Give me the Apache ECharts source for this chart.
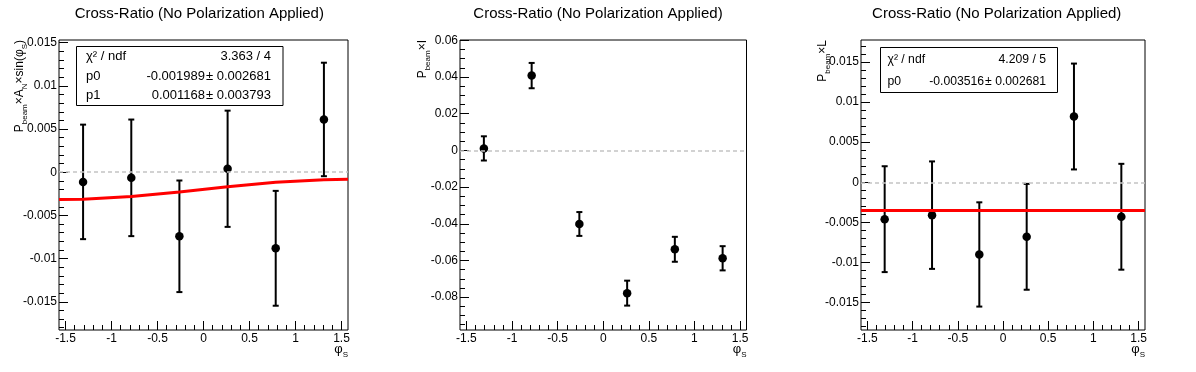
<!DOCTYPE html>
<html><head><meta charset="utf-8">
<script src="https://cdn.jsdelivr.net/npm/echarts@6/dist/echarts.min.js"></script>
<style>html,body{margin:0;padding:0;background:#fff}#c{width:1196px;height:372px}</style>
</head><body><div id="c"></div>
<script>
// ---------------- data ----------------
const phiBins = [-1.309, -0.785, -0.262, 0.262, 0.785, 1.309];

const asymSin    = [-0.00112, -0.00065, -0.00742, 0.00040, -0.00881, 0.00611];
const asymSinErr = [0.00663, 0.00675, 0.00646, 0.00673, 0.00665, 0.00657];

const asymI    = [0.0011, 0.0408, -0.0401, -0.0778, -0.0539, -0.0588];
const asymIErr = [0.0066, 0.0069, 0.0065, 0.0068, 0.0068, 0.0066];

const asymL    = [-0.0046, -0.0041, -0.0090, -0.0068, 0.0082, -0.0043];
const asymLErr = [0.0066, 0.0067, 0.0065, 0.0066, 0.0066, 0.0066];

// fit curves
const fitSinX = [-1.5708, -1.309, -0.785, -0.262, 0.262, 0.785, 1.309, 1.5708];
const fitSinY = [-0.00316, -0.00312, -0.00281, -0.00229, -0.00169, -0.00116, -0.00086, -0.00082];
const fitConstX = [-1.5708, 1.5708];
const fitConstY = [-0.003516, -0.003516];

// ticks
const xMajorTicks = [-1.5, -1, -0.5, 0, 0.5, 1, 1.5];
const ySinTicks = [-0.015, -0.01, -0.005, 0, 0.005, 0.01, 0.015];
const yITicks = [-0.08, -0.06, -0.04, -0.02, 0, 0.02, 0.04, 0.06];
const yLTicks = [-0.015, -0.01, -0.005, 0, 0.005, 0.01, 0.015];

// texts
const titleText = 'Cross-Ratio (No Polarization Applied)';
const stat1 = [['χ² / ndf', '3.363 / 4'], ['p0', '-0.001989\u200A± 0.002681'], ['p1', '0.001168\u200A± 0.003793']];
const stat3 = [['χ² / ndf', '4.209 / 5'], ['p0', '-0.003516\u200A± 0.002681']];
const yTitle1 = '{m|P}{s|beam}{m|×A}{s|N}{m|×sin(φ}{s|S}{m|)}';
const yTitle2 = '{m|P}{s|beam}{m|×I}';
const yTitle3 = '{m|P}{s|beam}{m|×L}';
const xTitle = '{m|φ}{s|S}';

// ---------------- layout ----------------
const FONT = '"Liberation Sans", Arial, Helvetica, sans-serif';
const XMIN = -1.5708, XMAX = 1.5708;
const panels = [
  {left: 59,  width: 289,   padCenter: 199.3, ymin: -0.01827, ymax: 0.01531, yTicks: ySinTicks, yMinorStep: 0.001, yMinorFrom: -0.018, yMinorTo: 0.015,
   y: asymSin, e: asymSinErr, fitX: fitSinX, fitY: fitSinY, yTitle: yTitle1, yTitleX: 26.5},
  {left: 460, width: 286.5, padCenter: 598,   ymin: -0.0979, ymax: 0.0602, yTicks: yITicks, yMinorStep: 0.005, yMinorFrom: -0.095, yMinorTo: 0.06,
   y: asymI, e: asymIErr, fitX: null, fitY: null, yTitle: yTitle2, yTitleX: 430},
  {left: 861, width: 284,   padCenter: 996.7, ymin: -0.01842, ymax: 0.01774, yTicks: yLTicks, yMinorStep: 0.001, yMinorFrom: -0.018, yMinorTo: 0.017,
   y: asymL, e: asymLErr, fitX: fitConstX, fitY: fitConstY, yTitle: yTitle3, yTitleX: 830}
];
const TOP = 40, HEIGHT = 290;

function steps(a, b, s) {
  const out = [];
  const n = Math.round((b - a) / s);
  for (let i = 0; i <= n; i++) out.push(+(a + i * s).toFixed(6));
  return out;
}
const xMinorTicks = steps(-1.5, 1.5, 0.1);
const fmt = v => String(+Number(v).toFixed(6));

const grids = [], xAxes = [], yAxes = [], series = [], titles = [], graphics = [];

panels.forEach((p, i) => {
  const gMain = 2 * i, gOver = 2 * i + 1;
  grids.push({left: p.left, top: TOP, width: p.width, height: HEIGHT, show: true, borderColor: '#000', borderWidth: 1, backgroundColor: 'transparent', outerBoundsMode: 'none', containLabel: false});
  grids.push({left: p.left, top: TOP, width: p.width, height: HEIGHT, show: false, outerBoundsMode: 'none', containLabel: false});

  const common = {type: 'value', splitLine: {show: false}, axisLine: {show: false, onZero: false}};
  xAxes.push(Object.assign({}, common, {gridIndex: gMain, min: XMIN, max: XMAX, position: 'bottom',
    axisTick: {show: true, inside: true, length: 9, customValues: xMajorTicks, lineStyle: {color: '#000', width: 1}},
    axisLabel: {show: true, customValues: xMajorTicks, formatter: fmt, margin: 3, fontSize: 12, color: '#000', fontFamily: FONT}}));
  xAxes.push(Object.assign({}, common, {gridIndex: gOver, min: XMIN, max: XMAX, position: 'bottom',
    axisTick: {show: true, inside: true, length: 5, customValues: xMinorTicks, lineStyle: {color: '#000', width: 1}},
    axisLabel: {show: false}}));
  yAxes.push(Object.assign({}, common, {gridIndex: gMain, min: p.ymin, max: p.ymax, position: 'left',
    axisTick: {show: true, inside: true, length: 9, customValues: p.yTicks, lineStyle: {color: '#000', width: 1}},
    axisLabel: {show: true, customValues: p.yTicks, formatter: fmt, margin: 2, fontSize: 12, color: '#000', fontFamily: FONT}}));
  yAxes.push(Object.assign({}, common, {gridIndex: gOver, min: p.ymin, max: p.ymax, position: 'left',
    axisTick: {show: true, inside: true, length: 5, customValues: steps(p.yMinorFrom, p.yMinorTo, p.yMinorStep), lineStyle: {color: '#000', width: 1}},
    axisLabel: {show: false}}));

  const pts = phiBins.map((x, k) => [x, p.y[k], p.e[k]]);

  // zero reference line
  series.push({type: 'line', xAxisIndex: gMain, yAxisIndex: gMain, data: [], silent: true, z: 1,
    markLine: {silent: true, symbol: ['none', 'none'], label: {show: false}, animation: false,
      lineStyle: {color: '#c4c4c4', width: 1.5, type: [4, 3]}, data: [{yAxis: 0}]}});

  // error bars
  series.push({type: 'custom', xAxisIndex: gMain, yAxisIndex: gMain, data: pts, z: 3, silent: true,
    renderItem: (params, api) => {
      const x = api.value(0), y = api.value(1), e = api.value(2);
      const t = api.coord([x, y + e]), b = api.coord([x, y - e]);
      const cap = 3, st = {stroke: '#000', lineWidth: 2};
      return {type: 'group', children: [
        {type: 'line', shape: {x1: t[0], y1: t[1], x2: b[0], y2: b[1]}, style: st},
        {type: 'line', shape: {x1: t[0] - cap, y1: t[1], x2: t[0] + cap, y2: t[1]}, style: st},
        {type: 'line', shape: {x1: b[0] - cap, y1: b[1], x2: b[0] + cap, y2: b[1]}, style: st}
      ]};
    }});
  // markers
  series.push({type: 'scatter', xAxisIndex: gMain, yAxisIndex: gMain, data: pts.map(d => [d[0], d[1]]),
    symbol: 'circle', symbolSize: 8.5, itemStyle: {color: '#000', opacity: 1}, z: 4, silent: true});
  // fit
  if (p.fitX) {
    series.push({type: 'line', xAxisIndex: gMain, yAxisIndex: gMain, data: p.fitX.map((x, k) => [x, p.fitY[k]]),
      showSymbol: false, symbol: 'none', lineStyle: {color: '#ff0000', width: 3}, z: 5, silent: true, clip: true});
  }

  titles.push({text: titleText, left: p.padCenter, top: 6, textAlign: 'center', padding: 0,
    textStyle: {fontSize: 15, fontWeight: 'normal', color: '#000', fontFamily: FONT, lineHeight: 16}});

  const rich = {
    m: {fontSize: 12, fontFamily: FONT, color: '#000', lineHeight: 13, verticalAlign: 'top'},
    s: {fontSize: 8, fontFamily: FONT, color: '#000', lineHeight: 8, verticalAlign: 'top', padding: [7, 0, 0, 0]}
  };
  graphics.push({type: 'text', x: p.yTitleX, y: TOP, rotation: Math.PI / 2, silent: true,
    style: {text: p.yTitle, rich: rich, align: 'right', verticalAlign: 'bottom'}});
  graphics.push({type: 'text', x: p.left + p.width, y: 343, silent: true,
    style: {text: xTitle, rich: {
      m: {fontSize: 13, fontFamily: FONT, color: '#000', lineHeight: 14, verticalAlign: 'top'},
      s: {fontSize: 8, fontFamily: FONT, color: '#000', lineHeight: 8, verticalAlign: 'top', padding: [8, 0, 0, 0]}},
      align: 'right', verticalAlign: 'top'}});
});

// stat boxes
function statBox(x, y, w, h, rows, labelX, valueX, rowY, fs) {
  graphics.push({type: 'rect', shape: {x: x, y: y, width: w, height: h}, silent: true,
    style: {fill: '#fff', stroke: '#000', lineWidth: 1}, z: 10});
  rows.forEach((r, k) => {
    graphics.push({type: 'text', x: labelX, y: rowY[k], z: 11, silent: true,
      style: {text: r[0], fontSize: fs, fontFamily: FONT, fill: '#000', align: 'left', verticalAlign: 'middle'}});
    graphics.push({type: 'text', x: valueX, y: rowY[k], z: 11, silent: true,
      style: {text: r[1], fontSize: fs, fontFamily: FONT, fill: '#000', align: 'right', verticalAlign: 'middle'}});
  });
}
statBox(76.5, 46.5, 206.5, 59, stat1, 86, 271, [56.7, 76.7, 95.7], 13);
statBox(880.5, 47.5, 177, 45, stat3, 887.5, 1046, [60, 81.5], 12.2);

const chart = echarts.init(document.getElementById('c'), null, {renderer: 'canvas'});
chart.setOption({
  animation: false,
  backgroundColor: '#fff',
  title: titles,
  grid: grids,
  xAxis: xAxes,
  yAxis: yAxes,
  series: series,
  graphic: graphics
});
</script>
</body></html>
